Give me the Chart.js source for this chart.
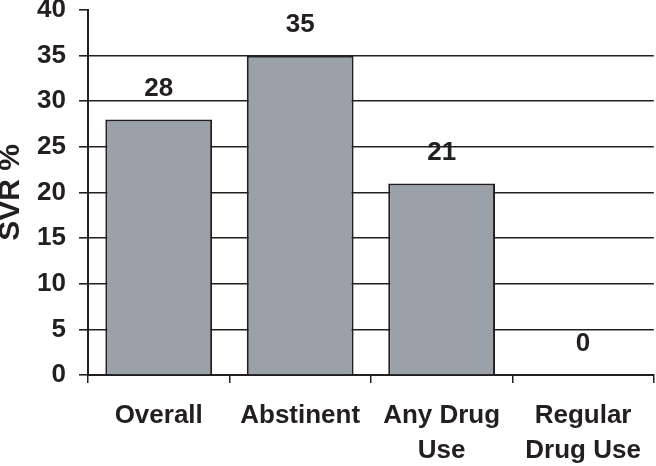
<!DOCTYPE html>
<html lang="en">
<head>
    <meta charset="UTF-8">
    <title>SVR by drug use</title>
    <style>
        body, html {
            margin: 0;
            padding: 0;
            background: #fff;
            overflow: hidden;
        }
        #chart {
            display: block;
        }
    </style>
</head>
<body>

<canvas id="chart" width="656" height="466"></canvas>

<script src="https://cdn.jsdelivr.net/npm/chart.js"></script>
<script>
    const categories = [['Overall'], ['Abstinent'], ['Any Drug', 'Use'], ['Regular', 'Drug Use']];
    const svrValues = [28, 35, 21, 0];
    const yTicks = [0, 5, 10, 15, 20, 25, 30, 35, 40];

    const ink = '#231f20';
    const fontFamily = '"Liberation Sans", Arial, Helvetica, sans-serif';

    // draws the number above each bar
    const valueLabels = {
        id: 'valueLabels',
        afterDatasetsDraw(chart) {
            const ctx = chart.ctx;
            const meta = chart.getDatasetMeta(0);
            ctx.save();
            ctx.font = 'bold 26px ' + fontFamily;
            ctx.fillStyle = ink;
            ctx.textAlign = 'center';
            ctx.textBaseline = 'middle';
            meta.data.forEach((bar, i) => {
                ctx.fillText(String(svrValues[i]), bar.x, bar.y - 31);
            });
            ctx.restore();
        }
    };

    function initChart() {
        const ctx = document.getElementById('chart').getContext('2d');
        new Chart(ctx, {
            type: 'bar',
            data: {
                labels: categories,
                datasets: [{
                    data: svrValues,
                    backgroundColor: '#9ba1a9',
                    borderColor: ink,
                    borderWidth: 2,
                    categoryPercentage: 1,
                    barPercentage: 0.755
                }]
            },
            options: {
                responsive: false,
                animation: false,
                layout: {
                    padding: { top: 10, right: 1, bottom: 0, left: 0 }
                },
                plugins: {
                    legend: { display: false },
                    tooltip: { enabled: false }
                },
                scales: {
                    x: {
                        grid: {
                            drawOnChartArea: false,
                            drawTicks: true,
                            tickLength: 8,
                            color: ink,
                            lineWidth: 1.5
                        },
                        border: { display: true, color: ink, width: 2 },
                        ticks: {
                            color: ink,
                            padding: 15,
                            maxRotation: 0,
                            autoSkip: false,
                            font: { family: fontFamily, size: 26, weight: 'bold', lineHeight: 1.35 }
                        },
                        afterFit: function(scale) { scale.height = 91; }
                    },
                    y: {
                        min: 0,
                        max: 40,
                        afterBuildTicks: function(scale) {
                            scale.ticks = yTicks.map(v => ({ value: v }));
                        },
                        grid: {
                            color: function(c) { return c.tick && c.tick.value === 40 ? 'rgba(0,0,0,0)' : ink; },
                            tickColor: ink,
                            tickLength: 9,
                            lineWidth: 1.6
                        },
                        border: { display: true, color: ink, width: 2 },
                        ticks: {
                            color: ink,
                            padding: 13,
                            font: { family: fontFamily, size: 26, weight: 'bold' }
                        },
                        title: {
                            display: true,
                            text: 'SVR %',
                            color: ink,
                            padding: 0,
                            font: { family: fontFamily, size: 30, weight: 'bold', lineHeight: 0.7 }
                        },
                        afterFit: function(scale) {
                            scale.width = 88;
                            scale.paddingTop = 0;
                            scale.paddingBottom = 0;
                        }
                    }
                }
            },
            plugins: [valueLabels]
        });
    }

    document.addEventListener('DOMContentLoaded', initChart);
</script>

</body>
</html>
